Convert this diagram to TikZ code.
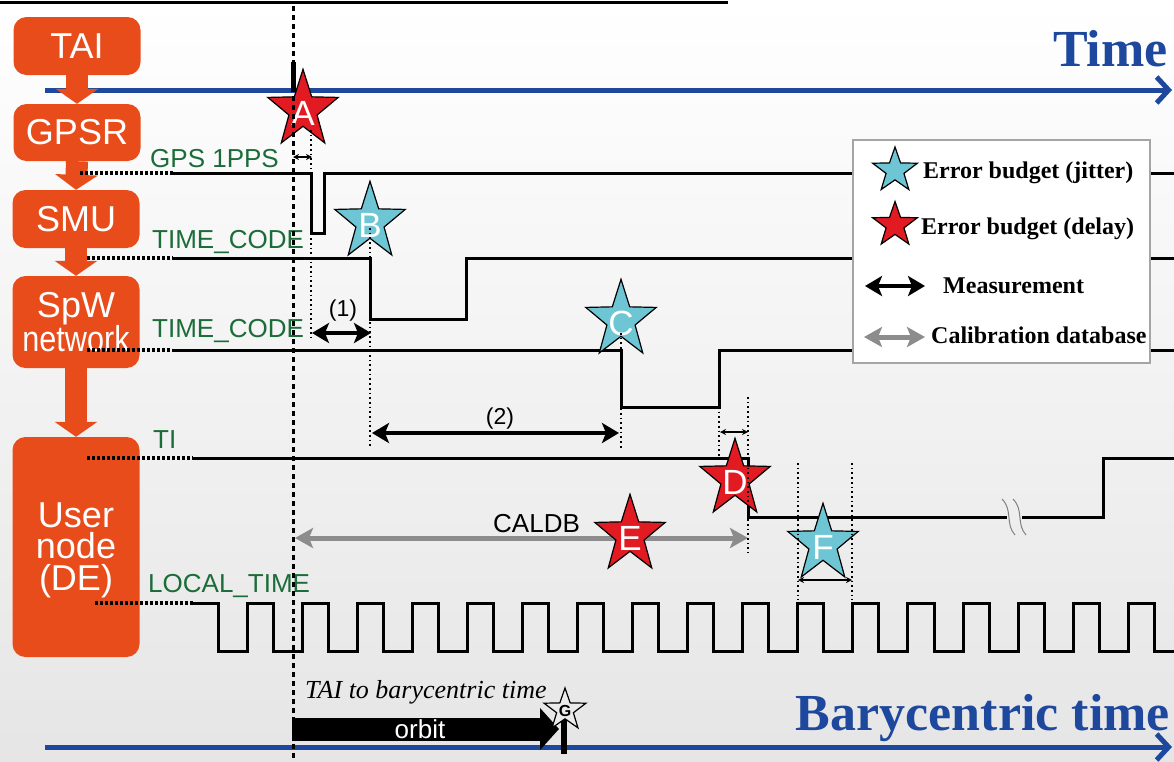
\documentclass[tikz,border=0pt]{standalone}
\usepackage{fontspec}
\setmainfont{Liberation Sans}
\newfontfamily\serifrm{Liberation Serif}
\usepackage{graphicx}
\usetikzlibrary{shapes.geometric,arrows.meta}
\definecolor{boxorange}{RGB}{232,76,27}
\definecolor{axisblue}{RGB}{30,72,158}
\definecolor{lblgreen}{RGB}{28,108,58}
\definecolor{starred}{RGB}{226,26,34}
\definecolor{starcyan}{RGB}{110,198,212}
\definecolor{calgray}{RGB}{140,140,140}
\definecolor{legborder}{RGB}{165,165,165}
\begin{document}
\begin{tikzpicture}[x=1pt,y=-1pt,
  box/.style={fill=boxorange, rounded corners=13pt, minimum width=127pt, text=white, align=center, font=\fontsize{36}{32}\selectfont, inner sep=0pt},
  boxtext/.style={text=white, align=center, font=\fontsize{36}{32}\selectfont, inner sep=0pt},
  flowarrow/.style={draw=boxorange, line width=22pt, -{Triangle[width=42pt,length=15pt]}},
  siglabel/.style={text=lblgreen, font=\fontsize{26}{26}\selectfont, anchor=base west, inner sep=0pt},
  sig/.style={line width=3pt, line join=miter},
  lead/.style={line width=3.2pt, dash pattern=on 3pt off 2pt},
  vdot/.style={line width=1.7pt, dash pattern=on 1.7pt off 3pt},
  bigdash/.style={line width=3pt, dash pattern=on 5pt off 4pt},
  meas/.style={line width=4pt, {Stealth[length=17pt,width=20pt,inset=4pt]}-{Stealth[length=17pt,width=20pt,inset=4pt]}},
  calib/.style={draw=calgray, line width=5pt, {Stealth[length=18pt,width=20pt,inset=4pt]}-{Stealth[length=18pt,width=20pt,inset=4pt]}},
  smallmeas/.style={line width=1.1pt, {Stealth[length=6pt,width=6pt]}-{Stealth[length=6pt,width=6pt]}},
  timeaxis/.style={draw=axisblue, line width=5pt, -{Straight Barb[length=12pt,width=26pt]}},
  axislabel/.style={text=axisblue, font=\serifrm\bfseries\fontsize{52}{52}\selectfont, anchor=base east, inner sep=0pt},
  bigstar/.style={star, star points=5, star point ratio=2.5, minimum size=74pt, inner sep=0pt, draw=black, line width=1.2pt, yscale=1.1},
  redstar/.style={bigstar, fill=starred},
  cyanstar/.style={bigstar, fill=starcyan},
  legstar/.style={star, star points=5, star point ratio=2.5, minimum size=47pt, inner sep=0pt, draw=black, line width=1.2pt},
  starletter/.style={text=white, font=\fontsize{35}{35}\selectfont, inner sep=0pt, yshift=-3pt},
  legtext/.style={font=\serifrm\bfseries\fontsize{24}{24}\selectfont, anchor=base west, inner sep=0pt},
  numlabel/.style={font=\fontsize{23}{23}\selectfont, inner sep=0pt}
]
\useasboundingbox (0,0) rectangle (1174,761);
\shade[top color=white, bottom color=black!10] (0,0) rectangle (1174,761);

% top rule
\coordinate (rule1) at (0,2);
\coordinate (rule2) at (728,2);
\draw[line width=3pt] (rule1) -- (rule2);

% time axes
\coordinate (ta1) at (45,90);
\coordinate (ta2) at (1172,90);
\draw[timeaxis] (ta1) -- (ta2);
\node[axislabel] (timelbl) at (1168,66) {Time};
\coordinate (ba1) at (45,747);
\coordinate (ba2) at (1172,747);
\draw[timeaxis] (ba1) -- (ba2);
\node[axislabel] (barylbl) at (1170,730) {Barycentric time};

% orange boxes
\node[box, minimum height=58pt] (tai) at (77,46) {TAI};
\node[box, minimum height=57pt] (gpsr) at (77,132.5) {GPSR};
\node[box, minimum height=58pt] (smu) at (76,219) {SMU};
\node[box, minimum height=92pt] (spw) at (76,322) {SpW\\\scalebox{0.85}[1]{network}};
\node[box, minimum height=220pt] (user) at (76,547) {};
\node[boxtext, anchor=base] (usertxt) at (76,527) {User};
\node[boxtext, anchor=base] (nodetxt) at (76,558) {node};
\node[boxtext, anchor=base] (detxt) at (76,590) {(DE)};
\draw[flowarrow] (tai.south) -- (gpsr.north);
\draw[flowarrow] (gpsr.south) -- (smu.north);
\draw[flowarrow] (smu.south) -- (spw.north);
\draw[flowarrow] (spw.south) -- (user.north);

% signal labels
\node[siglabel] (l1) at (150,167) {GPS 1PPS};
\node[siglabel] (l2) at (152,248) {TIME\_CODE};
\node[siglabel] (l3) at (152,337) {TIME\_CODE};
\node[siglabel] (l4) at (153,448) {TI};
\node[siglabel] (l5) at (148,592) {LOCAL\_TIME};

% signals
\draw[lead] (80,173) -- (173,173);
\draw[sig] (173,173) -- (311,173) -- (311,233) -- (324,233) -- (324,173) -- (1174,173);
\draw[lead] (87,258) -- (173,258);
\draw[sig] (173,258) -- (370,258) -- (370,319) -- (466,319) -- (466,258) -- (1174,258);
\draw[lead] (87,350) -- (172,350);
\draw[sig] (172,350) -- (621,350) -- (621,407) -- (719,407) -- (719,350) -- (1174,350);
\draw[lead] (87,458) -- (193,458);
\draw[sig] (193,458) -- (748,458) -- (748,517) -- (1007,517);
\draw[sig] (1022,517) -- (1103,517) -- (1103,458) -- (1174,458);
\draw[gray, line width=1pt] (1002,499) .. controls (1013,510) and (1005,524) .. (1015,535);
\draw[gray, line width=1pt] (1013,499) .. controls (1024,510) and (1016,524) .. (1026,535);
\draw[lead] (95,603) -- (193,603);
\draw[sig] (193,603) \foreach \k in {0,...,16} { -- ({218+55.08*\k},603) -- ({218+55.08*\k},651) -- ({247+55.08*\k},651) -- ({247+55.08*\k},603) } -- (1154.4,603) -- (1154.4,651) -- (1174,651);

% measurements
\coordinate (m0a) at (293,157); \coordinate (m0b) at (312,157);
\draw[smallmeas] (m0a) -- (m0b);
\coordinate (m1a) at (312,333); \coordinate (m1b) at (371,333);
\draw[meas] (m1a) -- (m1b);
\node[numlabel] (n1) at (343,311) {(1)};
\coordinate (m2a) at (372,433); \coordinate (m2b) at (619,433);
\draw[meas] (m2a) -- (m2b);
\node[numlabel] (n2) at (500,419) {(2)};
\coordinate (mda) at (720,432); \coordinate (mdb) at (748,432);
\draw[smallmeas] (mda) -- (mdb);
\coordinate (cala) at (295,538); \coordinate (calb) at (748,538);
\draw[calib] (cala) -- (calb);
\node[font=\fontsize{26}{26}\selectfont, anchor=base west, inner sep=0pt] (caldb) at (493,532) {CALDB};
\coordinate (mfa) at (798,580); \coordinate (mfb) at (852,580);
\draw[smallmeas] (mfa) -- (mfb);

% orbit
\coordinate (orba) at (292,729); \coordinate (orbb) at (559,729);
\draw[line width=23pt, -{Triangle[length=19pt,width=41pt]}] (orba) -- (orbb);
\node[text=white, font=\fontsize{26}{26}\selectfont, anchor=base, inner sep=0pt] (orbit) at (420,738) {orbit};
\node[font=\serifrm\itshape\fontsize{26}{26}\selectfont, anchor=base west, inner sep=0pt] (tai2bary) at (305,698) {TAI to barycentric time};
\coordinate (gt1) at (564,712); \coordinate (gt2) at (564,754);
\draw[line width=6pt] (gt1) -- (gt2);

% stars
\node[redstar, label={[starletter]center:A}] (sA) at (303,110) {};
\node[cyanstar, label={[starletter]center:B}] (sB) at (370,222) {};
\node[cyanstar, label={[starletter]center:C}] (sC) at (621,320) {};
\node[redstar, label={[starletter]center:D}] (sD) at (735,479) {};
\node[redstar, label={[starletter]center:E}] (sE) at (630,535) {};
\node[cyanstar, label={[starletter]center:F}] (sF) at (823,544) {};
\node[legstar, minimum size=44pt, fill=black!8, label={[font=\bfseries\fontsize{16}{16}\selectfont, inner sep=0pt, yshift=-1pt]center:G}] (sG) at (565,710) {};

% dotted guides
\draw[vdot] (311,130) -- (311,338);
\draw[vdot] (370,228) -- (370,447);
\draw[vdot] (621,333) -- (621,450);
\draw[vdot] (719,407) -- (719,462);
\draw[vdot] (748,397) -- (748,553);
\draw[vdot] (798,463) -- (798,600);
\draw[vdot] (852,463) -- (852,600);

% main dashed line and tick
\coordinate (dl1) at (293,6); \coordinate (dl2) at (293,761);
\draw[bigdash] (dl1) -- (dl2);
\coordinate (tk1) at (293.5,62); \coordinate (tk2) at (293.5,92);
\draw[line width=5pt] (tk1) -- (tk2);

% legend
\node[draw=legborder, line width=2pt, fill=white, minimum width=297pt, minimum height=223pt, inner sep=0pt, anchor=north west] (legend) at (852,139) {};
\node[legstar, fill=starcyan] (lsj) at (895,170.5) {};
\node[legtext] (ltj) at (923,178) {Error budget (jitter)};
\node[legstar, fill=starred] (lsd) at (895,225) {};
\node[legtext] (ltd) at (921,234) {Error budget (delay)};
\coordinate (lma) at (865,286); \coordinate (lmb) at (925,286);
\draw[meas] (lma) -- (lmb);
\node[legtext] (ltm) at (943,293) {Measurement};
\coordinate (lca) at (864,337); \coordinate (lcb) at (925,337);
\draw[calib] (lca) -- (lcb);
\node[legtext] (ltc) at (931,343) {Calibration database};
\end{tikzpicture}
\end{document}
